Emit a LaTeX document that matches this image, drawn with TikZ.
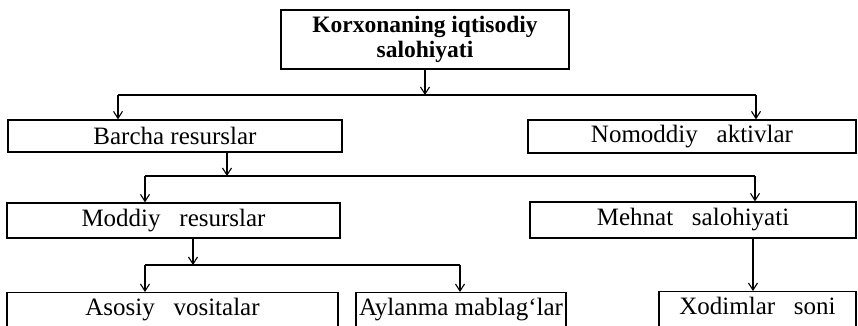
\documentclass[tikz,border=0pt]{standalone}
\usepackage{fontspec}
\setmainfont{Liberation Serif}
\usetikzlibrary{arrows.meta}
\newcommand\widewords{\spaceskip 0.75em plus 0.1em\relax}
\begin{document}
\begin{tikzpicture}[x=1pt,y=-1pt,
  box/.style={draw, line width=1.3pt, rectangle, inner sep=0pt, font=\fontsize{25}{28}\selectfont},
  wide/.style={font=\fontsize{25}{28}\selectfont\widewords},
  openbox/.style={box, anchor=north, text height=23pt, text depth=34pt},
  link/.style={line width=1.3pt},
  arr/.style={link, -{Straight Barb[length=7pt,width=9pt,line width=1.1pt]}}]
\useasboundingbox (0,0) rectangle (858,325);
\begin{scope}
\clip (0,0) rectangle (858,325);
% top level
\node[box, minimum width=288pt, minimum height=59pt, align=center,
      font=\fontsize{23.5}{24.5}\selectfont\bfseries] (top) at (425,39.5)
  {Korxonaning iqtisodiy\\salohiyati};
% second level
\node[box, minimum width=334pt, minimum height=32pt] (barcha) at (175,136) {Barcha resurslar};
\node[box, wide, minimum width=328pt, minimum height=33pt] (nomod) at (692,136.5) {Nomoddiy aktivlar};
% third level
\node[box, wide, minimum width=333pt, minimum height=35pt] (moddiy) at (173.5,220.5) {Moddiy resurslar};
\node[box, wide, minimum width=326pt, minimum height=36pt] (mehnat) at (693,220) {Mehnat salohiyati};
% bottom level (boxes run on below the page edge)
\node[openbox, wide, minimum width=331pt] (asosiy) at (172.5,292) {Asosiy vositalar};
\node[openbox, minimum width=210pt] (aylanma) at (461,292) {Aylanma mablag‘lar};
\node[openbox, wide, minimum width=197pt] (xodim) at (757.5,291) {Xodimlar soni};

% branch points on the buses
\coordinate (bus1) at (425,95);
\coordinate (bus1l) at (118,95);
\coordinate (bus1r) at (756,95);
\coordinate (bus2) at (227,176);
\coordinate (bus2l) at (145,176);
\coordinate (bus2r) at (755,176);
\coordinate (bus3) at (193,265);
\coordinate (bus3l) at (145,265);
\coordinate (bus3r) at (460,265);

% top -> second level
\draw[arr] (top.south -| bus1) -- (bus1);
\draw[link] (bus1l) -- (bus1r);
\draw[arr] (bus1l) -- (barcha.north -| bus1l);
\draw[arr] (bus1r) -- (nomod.north -| bus1r);
% second -> third level
\draw[arr] (barcha.south -| bus2) -- (bus2);
\draw[link] (bus2l) -- (bus2r);
\draw[arr] (bus2l) -- (moddiy.north -| bus2l);
\draw[arr] (bus2r) -- (mehnat.north -| bus2r);
% third -> bottom level
\draw[arr] (moddiy.south -| bus3) -- (bus3);
\draw[link] (bus3l) -- (bus3r);
\draw[arr] (bus3l) -- (asosiy.north -| bus3l);
\draw[arr] (bus3r) -- (aylanma.north -| bus3r);
\draw[arr] (mehnat.south -| 753,0) -- (xodim.north -| 753,0);
\end{scope}
\end{tikzpicture}
\end{document}
